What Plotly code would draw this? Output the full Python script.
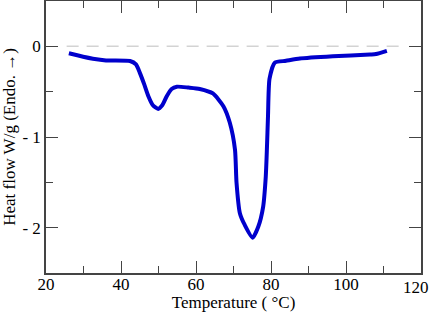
import plotly.graph_objects as go

temp_c = [26.1, 29.9, 32.5, 36.0, 42.4, 44.0, 45.0, 46.2, 47.3, 48.5, 49.9, 51.0, 52.2, 53.5, 54.9,
          58.0, 61.0, 64.5, 67.3, 69.0, 70.4, 70.8, 71.7, 73.0, 75.1, 76.6, 77.9, 78.6, 78.9, 79.2,
          79.6, 81.0, 84.0, 87.7, 96.5, 106.4, 108.0, 110.9]
heat_flow = [-0.077, -0.115, -0.136, -0.155, -0.162, -0.20, -0.29, -0.42, -0.55, -0.65, -0.69, -0.65, -0.55, -0.47, -0.445,
             -0.455, -0.47, -0.52, -0.66, -0.84, -1.14, -1.50, -1.84, -1.97, -2.11, -1.99, -1.77, -1.44, -1.14, -0.77,
             -0.36, -0.18, -0.16, -0.135, -0.11, -0.09, -0.085, -0.05]
baseline_x = [25.5, 114.5]
baseline_y = [0, 0]

x_ticks = [20, 40, 60, 80, 100, 120]
x_ticktext = ["20", "40", "60", "80", "100", "120"]
y_ticks = [0, -1, -2]
y_ticktext = ["0", "- 1", "- 2"]

font_family = "Liberation Serif"
axis_color = "#444444"

fig = go.Figure()
fig.add_trace(go.Scatter(x=baseline_x, y=baseline_y, mode="lines",
                         line=dict(color="#d3d3d3", width=1.5, dash="12px,8px"),
                         hoverinfo="skip", showlegend=False))
fig.add_trace(go.Scatter(x=temp_c, y=heat_flow, mode="lines",
                         line=dict(color="#0000cc", width=4, shape="spline", smoothing=0.6),
                         showlegend=False))

fig.update_layout(
    width=431, height=312,
    margin=dict(l=46, r=10, t=1, b=39, autoexpand=False),
    paper_bgcolor="white", plot_bgcolor="white",
    font=dict(family=font_family, size=17, color="black"),
    showlegend=False,
)
# the last tick label sits at the right edge; draw it as an annotation nudged inside the page
fig.add_annotation(x=x_ticks[-1], xref="x", y=0, yref="paper", text=x_ticktext[-1],
                   showarrow=False, xanchor="right", yanchor="top", xshift=10, yshift=-3,
                   font=dict(size=17, family=font_family, color="black"))
fig.update_xaxes(
    range=[20, 120], tickvals=x_ticks, ticktext=x_ticktext[:-1] + [""],
    ticks="inside", ticklen=12, tickwidth=1.3, tickcolor=axis_color,
    showline=True, linecolor=axis_color, linewidth=1.5, mirror="ticks",
    showgrid=False, zeroline=False, automargin=False,
    ticklabeloverflow="allow", ticklabelstandoff=-5,
    tickfont=dict(size=17, family=font_family),
    title=dict(text="Temperature ( °C)", font=dict(size=17, family=font_family), standoff=1),
    minor=dict(tickvals=[30, 50, 70, 90, 110], ticks="inside", ticklen=7, tickwidth=1.3, tickcolor=axis_color, showgrid=False),
)
fig.update_yaxes(
    range=[-2.5, 0.5], tickvals=y_ticks, ticktext=y_ticktext,
    ticks="inside", ticklen=12, tickwidth=1.3, tickcolor=axis_color,
    showline=True, linecolor=axis_color, linewidth=1.5, mirror="ticks",
    showgrid=False, zeroline=False, automargin=False,
    ticklabeloverflow="allow",
    tickfont=dict(size=17, family=font_family),
    title=dict(text="Heat flow W/g (Endo. →)", font=dict(size=17, family=font_family)),
    minor=dict(tickvals=[-0.5, -1.5], ticks="inside", ticklen=7, tickwidth=1.3, tickcolor=axis_color, showgrid=False),
)

fig.write_html("out.html", config={"displayModeBar": False},
               post_script="document.body.style.margin='0';document.body.style.padding='0';")
